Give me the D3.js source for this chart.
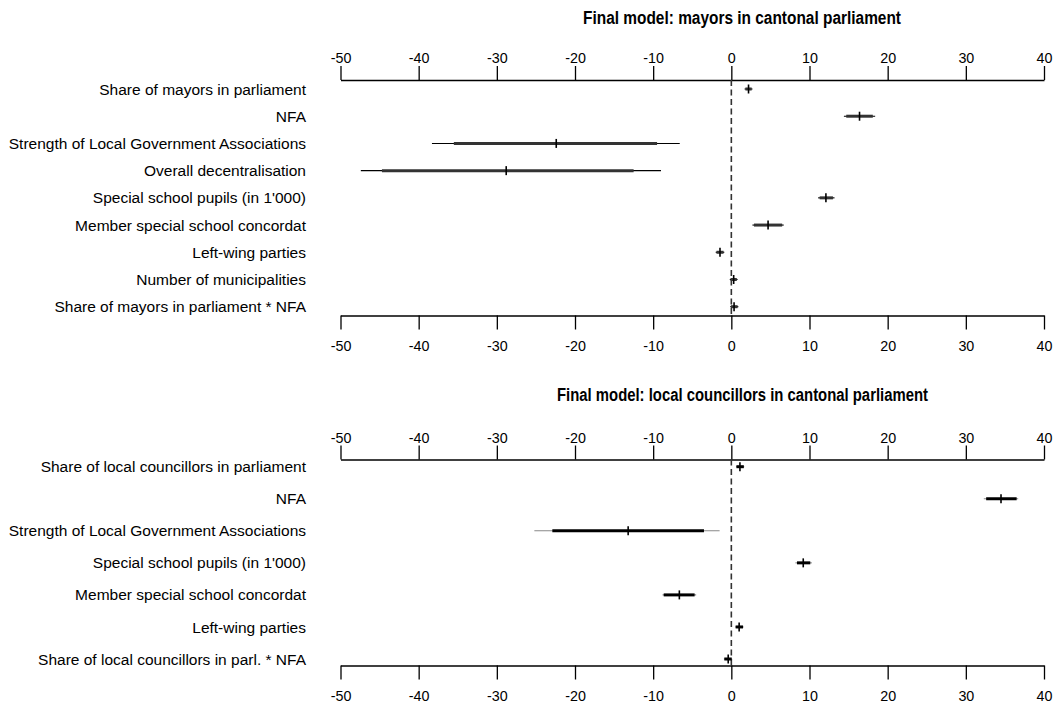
<!DOCTYPE html>
<html>
<head>
<meta charset="utf-8">
<script src="https://cdn.jsdelivr.net/npm/d3@7"></script>
<style>
  html, body { margin: 0; padding: 0; background: #fff; }
  svg { display: block; font-family: "Liberation Sans", Arial, sans-serif; }
</style>
</head>
<body>
<svg id="chart" width="1060" height="706"></svg>
<script>
// ---- Data ----
const tickValues = [-50, -40, -30, -20, -10, 0, 10, 20, 30, 40];

const titleTop = "Final model: mayors in cantonal parliament";
const labelsTop = [
  "Share of mayors in parliament",
  "NFA",
  "Strength of Local Government Associations",
  "Overall decentralisation",
  "Special school pupils (in 1'000)",
  "Member special school concordat",
  "Left-wing parties",
  "Number of municipalities",
  "Share of mayors in parliament * NFA"
];
const estTop    = [2.2, 16.4, -22.4, -28.8, 12.1, 4.7, -1.45, 0.3, 0.35];
const thickLoTop = [1.8, 14.7, -35.5, -44.7, 11.3, 2.9, -1.9, -0.1, -0.05];
const thickHiTop = [2.6, 18.1, -9.5, -12.5, 13.0, 6.5, -1.0, 0.7, 0.8];
const thinLoTop  = [1.7, 14.4, -38.3, -47.4, 11.1, 2.7, -2.0, -0.2, -0.15];
const thinHiTop  = [2.7, 18.4, -6.6, -9.0, 13.2, 6.7, -0.9, 0.8, 0.9];

const titleBot = "Final model: local councillors in cantonal parliament";
const labelsBot = [
  "Share of local councillors in parliament",
  "NFA",
  "Strength of Local Government Associations",
  "Special school pupils (in 1'000)",
  "Member special school concordat",
  "Left-wing parties",
  "Share of local councillors in parl. * NFA"
];
const estBot     = [1.1, 34.5, -13.2, 9.2, -6.65, 1.0, -0.4];
const thickLoBot = [0.65, 32.6, -22.9, 8.4, -8.65, 0.55, -0.9];
const thickHiBot = [1.6, 36.5, -3.5, 10.1, -4.7, 1.5, 0.05];
const thinLoBot  = [0.6, 32.3, -25.2, 8.2, -8.8, 0.5, -0.95];
const thinHiBot  = [1.65, 36.7, -1.5, 10.3, -4.5, 1.55, 0.1];

// ---- Drawing ----
const svg = d3.select("#chart");
const x = d3.scaleLinear().domain([-50, 40]).range([340.5, 1044]);
const fmt = d => String(d);

function panel(cfg) {
  const g = svg.append("g");
  const y = d3.scalePoint().domain(cfg.labels).range([cfg.row0, cfg.rowN]);

  // title (condensed, as in the reference)
  g.append("text")
    .attr("x", cfg.titleX).attr("y", cfg.titleY)
    .attr("text-anchor", "middle")
    .attr("font-weight", "bold")
    .attr("font-size", 17.5)
    .attr("textLength", cfg.titleLen)
    .attr("lengthAdjust", "spacingAndGlyphs")
    .text(cfg.title);

  // axes
  const axT = g.append("g").attr("transform", `translate(0,${cfg.axTop})`)
    .call(d3.axisTop(x).tickValues(tickValues).tickFormat(fmt).tickSize(14).tickSizeOuter(0).tickPadding(3));
  const axB = g.append("g").attr("transform", `translate(0,${cfg.axBot})`)
    .call(d3.axisBottom(x).tickValues(tickValues).tickFormat(fmt).tickSize(14).tickSizeOuter(0).tickPadding(11));
  [axT, axB].forEach(a => {
    a.selectAll("text").attr("font-size", 14.3).attr("fill", "#000")
      .attr("font-family", "Liberation Sans, Arial, sans-serif");
    a.selectAll("line").attr("stroke", "#000").attr("stroke-width", 1.3);
    a.select(".domain").attr("stroke", "#000").attr("stroke-width", 1.3);
  });

  // zero reference line
  g.append("line")
    .attr("x1", x(0)).attr("x2", x(0))
    .attr("y1", cfg.axTop).attr("y2", cfg.axBot)
    .attr("stroke", "#333").attr("stroke-width", 1.6)
    .attr("stroke-dasharray", "6,3.5");

  // labels
  g.selectAll("text.lab").data(cfg.labels).join("text")
    .attr("class", "lab")
    .attr("x", 306).attr("y", d => y(d))
    .attr("dy", "0.36em")
    .attr("text-anchor", "end")
    .attr("font-size", 15.5)
    .text(d => d);

  const idx = d3.range(cfg.labels.length);
  // thin intervals
  g.selectAll("line.thin").data(idx).join("line")
    .attr("x1", i => x(cfg.thinLo[i])).attr("x2", i => x(cfg.thinHi[i]))
    .attr("y1", i => y(cfg.labels[i])).attr("y2", i => y(cfg.labels[i]))
    .attr("stroke", cfg.thinColor).attr("stroke-width", 1.1);
  // thick intervals
  g.selectAll("line.thick").data(idx).join("line")
    .attr("x1", i => x(cfg.thickLo[i])).attr("x2", i => x(cfg.thickHi[i]))
    .attr("y1", i => y(cfg.labels[i])).attr("y2", i => y(cfg.labels[i]))
    .attr("stroke", cfg.thickColor).attr("stroke-width", 3);
  // point estimates
  g.selectAll("line.est").data(idx).join("line")
    .attr("x1", i => x(cfg.est[i])).attr("x2", i => x(cfg.est[i]))
    .attr("y1", i => y(cfg.labels[i]) - 4.5).attr("y2", i => y(cfg.labels[i]) + 4.5)
    .attr("stroke", "#000").attr("stroke-width", 1.6);
}

panel({
  title: titleTop, titleX: 742, titleY: 24, titleLen: 318, labels: labelsTop,
  row0: 89, rowN: 306.7, axTop: 80, axBot: 315.5,
  est: estTop, thickLo: thickLoTop, thickHi: thickHiTop, thinLo: thinLoTop, thinHi: thinHiTop,
  thinColor: "#000", thickColor: "#333"
});
panel({
  title: titleBot, titleX: 742.5, titleY: 401, titleLen: 371, labels: labelsBot,
  row0: 466.7, rowN: 659, axTop: 459.5, axBot: 665.5,
  est: estBot, thickLo: thickLoBot, thickHi: thickHiBot, thinLo: thinLoBot, thinHi: thinHiBot,
  thinColor: "#888", thickColor: "#000"
});
</script>
</body>
</html>
